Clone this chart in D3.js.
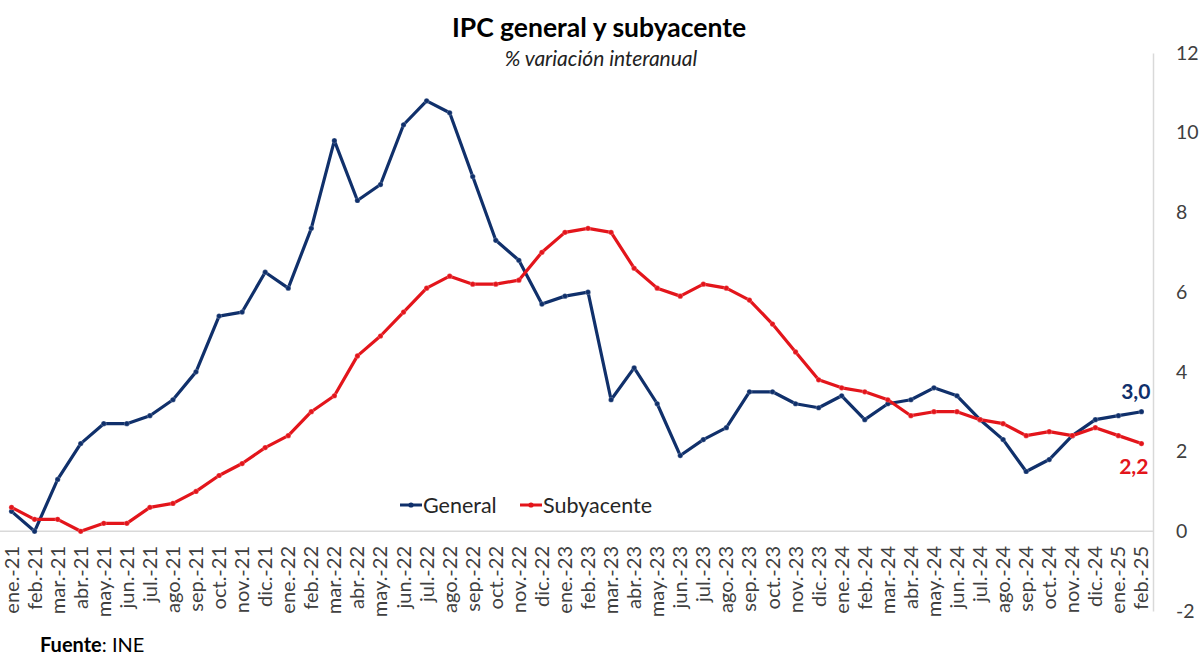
<!DOCTYPE html>
<html><head><meta charset="utf-8">
<script src="https://cdn.jsdelivr.net/npm/d3@7"></script>
<style>body{margin:0;background:#fff;}svg{display:block;font-family:Lato,"Open Sans",sans-serif;}</style>
</head><body><svg id="c" width="1200" height="661"></svg>
<script>
const months = ["ene.","feb.","mar.","abr.","may.","jun.","jul.","ago.","sep.","oct.","nov.","dic."];
const categories = [];
for (const yr of ["21","22","23","24","25"]) for (const m of months) { if (categories.length < 50) categories.push(m + "-" + yr); }
const general = [0.5,0.0,1.3,2.2,2.7,2.7,2.9,3.3,4.0,5.4,5.5,6.5,
  6.1,7.6,9.8,8.3,8.7,10.2,10.8,10.5,8.9,7.3,6.8,5.7,
  5.9,6.0,3.3,4.1,3.2,1.9,2.3,2.6,3.5,3.5,3.2,3.1,
  3.4,2.8,3.2,3.3,3.6,3.4,2.8,2.3,1.5,1.8,2.4,2.8,
  2.9,3.0];
const subyacente = [0.6,0.3,0.3,0.0,0.2,0.2,0.6,0.7,1.0,1.4,1.7,2.1,
  2.4,3.0,3.4,4.4,4.9,5.5,6.1,6.4,6.2,6.2,6.3,7.0,
  7.5,7.6,7.5,6.6,6.1,5.9,6.2,6.1,5.8,5.2,4.5,3.8,
  3.6,3.5,3.3,2.9,3.0,3.0,2.8,2.7,2.4,2.5,2.4,2.6,
  2.4,2.2];
const yTicks = [-2,0,2,4,6,8,10,12];
const seriesNames = ["General","Subyacente"];
const colors = ["#10306b","#e3151b"];

const svg = d3.select("#c");
const x = d3.scalePoint().domain(categories).range([0,1153]).padding(0.5);
const y = d3.scaleLinear().domain([-2,12]).range([611,53]);

// title
svg.append("text").attr("x",599).attr("y",37).attr("text-anchor","middle")
  .attr("font-size",26.5).attr("font-weight","bold").attr("fill","#000").text("IPC general y subyacente");
svg.append("text").attr("x",601).attr("y",66).attr("text-anchor","middle")
  .attr("font-size",21).attr("font-style","italic").attr("fill","#222").text("% variación interanual");

// right axis
const ya = svg.append("g").attr("transform","translate(1153,0)")
  .call(d3.axisRight(y).tickValues(yTicks).tickSize(0).tickPadding(23).tickFormat(d=>String(d)));
ya.select(".domain").attr("stroke","#d9d9d9").attr("stroke-width",1.5);
ya.selectAll("text").attr("font-size",19.5).attr("fill","#404040").attr("font-family","Lato,'Open Sans',sans-serif");

// zero line
svg.append("line").attr("x1",0).attr("x2",1153).attr("y1",y(0)).attr("y2",y(0))
  .attr("stroke","#d9d9d9").attr("stroke-width",1.5);

// x labels
svg.append("g").selectAll("text").data(categories).join("text")
  .attr("transform",d=>`translate(${x(d)+7},546) rotate(-90)`)
  .attr("text-anchor","end").attr("font-size",20).attr("fill","#404040").text(d=>d);

// lines
const line = d3.line().x((d,i)=>x(categories[i])).y(d=>y(d));
[general, subyacente].forEach((s,k)=>{
  svg.append("path").datum(s).attr("d",line).attr("fill","none")
    .attr("stroke",colors[k]).attr("stroke-width",3.2).attr("stroke-linejoin","round");
  svg.append("g").selectAll("circle").data(s).join("circle")
    .attr("cx",(d,i)=>x(categories[i])).attr("cy",d=>y(d)).attr("r",2.6)
    .attr("fill",colors[k]).attr("stroke","#fff").attr("stroke-opacity",0.4).attr("stroke-width",0.6);
});

// end labels
const last = categories.length-1;
svg.append("text").attr("x",x(categories[last])+9).attr("y",y(general[last])-13).attr("text-anchor","end")
  .attr("font-size",21).attr("font-weight","bold").attr("fill",colors[0]).text(d3.format(".1f")(general[last]).replace(".",","));
svg.append("text").attr("x",x(categories[last])+7).attr("y",y(subyacente[last])+30).attr("text-anchor","end")
  .attr("font-size",21).attr("font-weight","bold").attr("fill",colors[1]).text(d3.format(".1f")(subyacente[last]).replace(".",","));

// legend
const lg = svg.append("g");
const lx = [400, 520];
seriesNames.forEach((n,k)=>{
  const g = lg.append("g").attr("transform",`translate(${lx[k]},505)`);
  g.append("line").attr("x1",0).attr("x2",22).attr("y1",0).attr("y2",0).attr("stroke",colors[k]).attr("stroke-width",3);
  g.append("circle").attr("cx",11).attr("cy",0).attr("r",2.6).attr("fill",colors[k]);
  g.append("text").attr("x",23).attr("y",8).attr("font-size",21.5).attr("fill","#262626").text(n);
});

// source
const src = svg.append("text").attr("x",40).attr("y",652).attr("font-size",20).attr("fill","#000");
src.append("tspan").attr("font-weight","bold").text("Fuente");
src.append("tspan").text(": INE");
</script></body></html>
